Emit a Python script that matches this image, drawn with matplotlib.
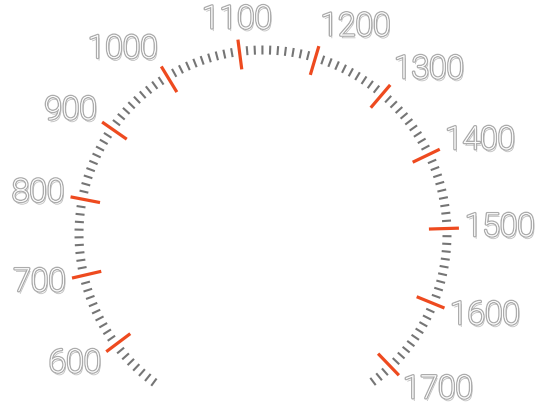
import numpy as np
import matplotlib
matplotlib.use("Agg")
import matplotlib.pyplot as plt
import matplotlib.patheffects as pe

# ---- data ----
major_values = [600, 700, 800, 900, 1000, 1100, 1200, 1300, 1400, 1500, 1600, 1700]
major_labels = ["600", "700", "800", "900", "1000", "1100", "1200", "1300", "1400", "1500", "1600", "1700"]
minor_start, minor_stop, minor_step = 530, 1730, 10

# ---- scale: value -> angle (degrees, counterclockwise from +x) ----
ANGLE_AT_600 = 216.9
DEG_PER_UNIT = -0.2391


def angle_of(v):
    return np.deg2rad(ANGLE_AT_600 + DEG_PER_UNIT * (np.asarray(v, float) - 600))


W, H = 540, 414
CX, CY = 263, 235  # gauge centre in pixels from top-left

fig = plt.figure(figsize=(W / 100, H / 100), dpi=100)
ax = fig.add_axes([0, 0, 1, 1])
ax.set_xlim(-CX, W - CX)
ax.set_ylim(-(H - CY), CY)
ax.set_aspect("equal")
ax.axis("off")

# minor ticks
minor_values = [v for v in range(minor_start, minor_stop + 1, minor_step)
                if not (v % 100 == 0 and 600 <= v <= 1700)]
r1, r2 = 179.5, 188.5
for v in minor_values:
    a = angle_of(v)
    ax.plot([r1 * np.cos(a), r2 * np.cos(a)], [r1 * np.sin(a), r2 * np.sin(a)],
            color="#757575", lw=1.5, solid_capstyle="butt")

# major ticks
R1, R2 = 166, 196
for v in major_values:
    a = angle_of(v)
    ax.plot([R1 * np.cos(a), R2 * np.cos(a)], [R1 * np.sin(a), R2 * np.sin(a)],
            color="#ee4a1f", lw=2.3, solid_capstyle="butt")

# labels
effects = [
    pe.SimplePatchShadow(offset=(1.0, -2.0), shadow_rgbFace="#000000", alpha=0.25),
    pe.withStroke(linewidth=2.0, foreground="#acacac"),
    pe.Normal(),
]
RL = 202
for v, lab in zip(major_values, major_labels):
    a = angle_of(v)
    c, s = np.cos(a), np.sin(a)
    if c > 0.2:
        ha = "left"
    elif c < -0.2:
        ha = "right"
    else:
        ha = "center"
    x = RL * c
    y = (RL + 14) * s
    ax.text(x, y, lab, ha=ha, va="center", fontsize=23, color="#fdfdfd",
            family=["Roboto", "DejaVu Sans"], fontweight="light",
            path_effects=effects)

fig.savefig("out.png", dpi=100, facecolor="white")
